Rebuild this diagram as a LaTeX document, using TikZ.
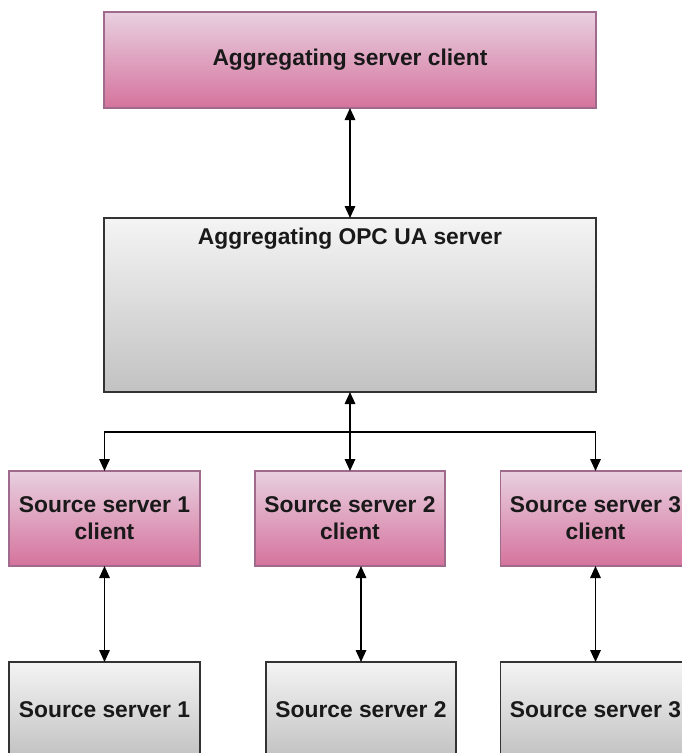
\documentclass[tikz,border=0pt]{standalone}
\usepackage{fontspec}
\setmainfont{Liberation Sans}
\usetikzlibrary{arrows.meta}

\definecolor{pinktop}{HTML}{E8D0E0}
\definecolor{pinkbot}{HTML}{D5739D}
\definecolor{pinkline}{HTML}{A06A8C}
\definecolor{graytop}{HTML}{F4F4F4}
\definecolor{graybot}{HTML}{C2C2C2}
\definecolor{grayline}{HTML}{333333}

\tikzset{
  boxtext/.style={font=\fontsize{22.8}{27}\selectfont\bfseries, text=black!90, align=center},
  pinkbox/.style={rectangle, draw=pinkline, line width=1.3pt, top color=pinktop, bottom color=pinkbot,
    inner sep=0pt, outer sep=0pt, boxtext},
  graybox/.style={rectangle, draw=grayline, line width=1.6pt, top color=graytop, bottom color=graybot,
    inner sep=0pt, outer sep=0pt, boxtext},
  link/.style={draw=black, line width=1.6pt},
  tip/.style={Triangle[length=12pt,width=10.5pt]},
  biarrow/.style={link, {Triangle[length=12pt,width=10.5pt]}-{Triangle[length=12pt,width=10.5pt]}},
  downarrow/.style={link, -{Triangle[length=12pt,width=10.5pt]}},
}

\begin{document}
\begin{tikzpicture}[x=1pt, y=-1pt]
  \useasboundingbox (0,0) rectangle (681,753);

  % top client and the aggregating server
  \node[pinkbox, minimum width=492pt, minimum height=96pt] (aggc) at (350,60) {Aggregating server client};
  \node[graybox, minimum width=492pt, minimum height=174pt,
        label={[boxtext, anchor=north, inner sep=0pt, yshift=-10pt]north:Aggregating OPC UA server}]
        (aggs) at (350,305) {};

  % source server clients
  \node[pinkbox, minimum width=191pt, minimum height=95pt] (c1) at (104.5,518.5) {Source server 1\\client};
  \node[pinkbox, minimum width=190pt, minimum height=95pt] (c2) at (350,518.5) {Source server 2\\client};
  \node[pinkbox, minimum width=190pt, minimum height=95pt] (c3) at (595.5,518.5) {Source server 3\\client};

  % source servers
  \node[graybox, minimum width=191pt, minimum height=95pt] (s1) at (104.5,709.5) {Source server 1};
  \node[graybox, minimum width=190pt, minimum height=95pt] (s2) at (361,709.5) {Source server 2};
  \node[graybox, minimum width=190pt, minimum height=95pt] (s3) at (595.5,709.5) {Source server 3};

  % connectors
  \draw[biarrow] (aggc.south) -- (aggs.north);
  \coordinate (bus) at (350,432);
  \draw[biarrow] (aggs.south) -- (c2.north);
  \draw[downarrow] (bus) -| (c1.north);
  \draw[downarrow] (bus) -| (c3.north);

  \draw[biarrow] (c1.south) -- (s1.north);
  \draw[biarrow] (s2.north |- c2.south) -- (s2.north);
  \draw[biarrow] (c3.south) -- (s3.north);
\end{tikzpicture}
\end{document}
